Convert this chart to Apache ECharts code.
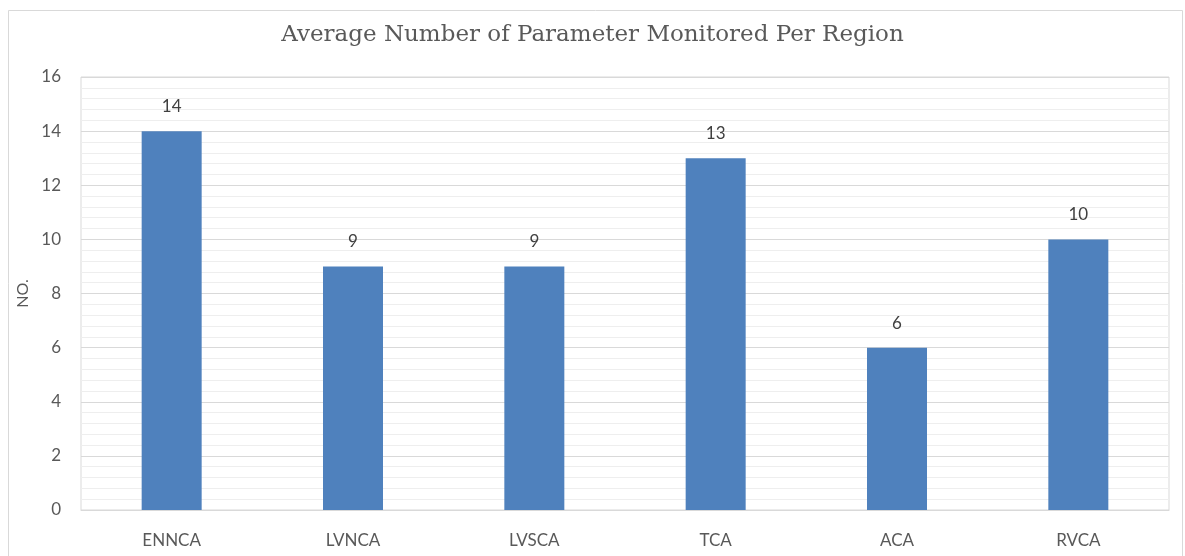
<!DOCTYPE html>
<html><head><meta charset="utf-8">
<script src="https://cdn.jsdelivr.net/npm/echarts@6/dist/echarts.min.js"></script>
<style>html,body{margin:0;padding:0;background:#fff}#c{width:1185px;height:556px}</style>
</head><body><div id="c"></div>
<script>
const categories = ["ENNCA", "LVNCA", "LVSCA", "TCA", "ACA", "RVCA"];
const values = [14, 9, 9, 13, 6, 10];
const yTicks = [0, 2, 4, 6, 8, 10, 12, 14, 16];

const chart = echarts.init(document.getElementById('c'), null, {renderer: 'canvas'});
chart.setOption({
  animation: false,
  backgroundColor: '#fff',
  title: {
    text: 'Average Number of Parameter Monitored Per Region',
    left: 'center', top: 19,
    textStyle: {fontFamily: 'DejaVu Serif', fontWeight: 'normal', fontSize: 23, color: '#595959'}
  },
  graphic: [{type: 'rect', shape: {x: 8.5, y: 10.5, width: 1174, height: 560}, style: {fill: 'none', stroke: '#d9d9d9', lineWidth: 1}, silent: true}],
  grid: {left: 81, right: 16, top: 77, bottom: 46, show: true, borderColor: '#d9d9d9', borderWidth: 1},
  xAxis: {
    type: 'category', data: categories,
    axisLine: {lineStyle: {color: '#d9d9d9'}},
    axisTick: {show: false},
    axisLabel: {fontFamily: 'Lato', fontSize: 17, color: '#595959', margin: 22}
  },
  yAxis: {
    type: 'value', min: yTicks[0], max: yTicks[yTicks.length - 1], interval: 2,
    name: 'NO.', nameLocation: 'middle', nameGap: 41, nameRotate: 90,
    nameTextStyle: {fontFamily: 'Lato', fontSize: 16, color: '#595959'},
    axisLine: {show: false}, axisTick: {show: false},
    axisLabel: {fontFamily: 'Lato', fontSize: 17, color: '#595959', margin: 20},
    splitLine: {lineStyle: {color: '#d9d9d9'}},
    minorTick: {show: false, splitNumber: 5},
    minorSplitLine: {show: true, lineStyle: {color: '#eeeeee'}}
  },
  series: [{
    type: 'bar', data: values, barWidth: 60,
    itemStyle: {color: '#4f81bd'},
    label: {show: true, position: 'top', distance: 16, fontFamily: 'Lato', fontSize: 17, color: '#404040'}
  }]
});
</script></body></html>
